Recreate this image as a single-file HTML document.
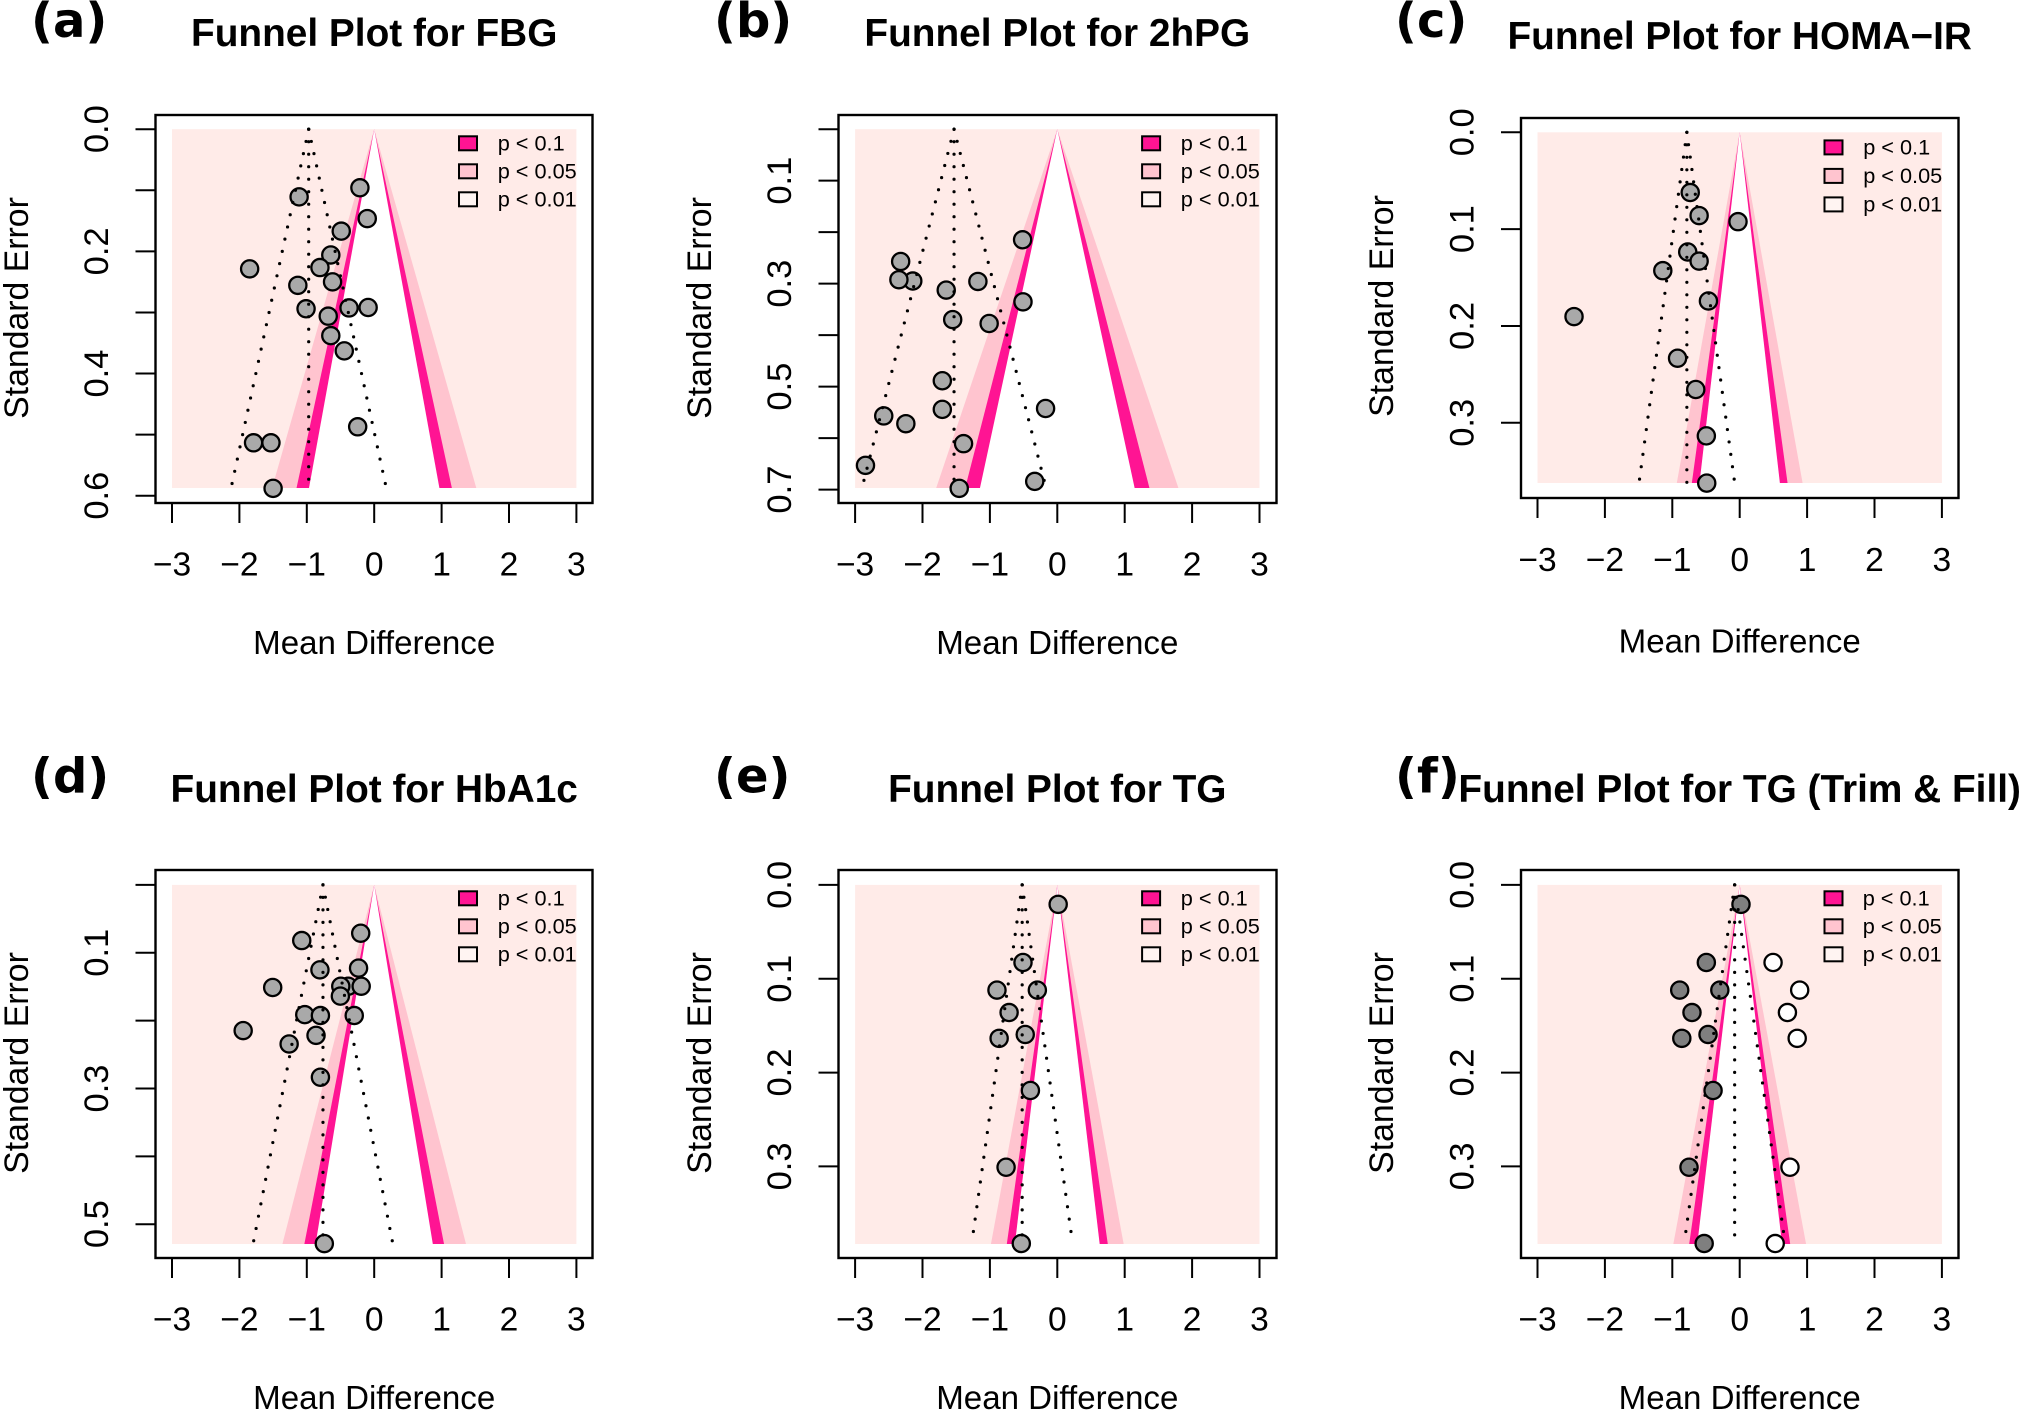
<!DOCTYPE html>
<html lang="en">
<head>
<meta charset="utf-8">
<title>Funnel plots</title>
<style>
html,body{margin:0;padding:0;background:#fff;}
svg{display:block;}
text{font-family:"Liberation Sans",Arial,sans-serif;fill:#000;}
.tag{font-family:"DejaVu Sans",sans-serif;font-weight:700;font-size:48px;}
.title{font-weight:700;font-size:38.8px;text-anchor:middle;}
.axt{font-size:33.1px;text-anchor:middle;}
.ayt{font-size:33.8px;text-anchor:middle;}
.leg{font-size:21.7px;}
.sw{stroke:#000;stroke-width:2;}
</style>
</head>
<body>
<svg id="chart" xmlns="http://www.w3.org/2000/svg" width="2023" height="1416" viewBox="0 0 2023 1416">
<rect width="2023" height="1416" fill="#fff"/>

<g id="panel-a">
 <g class="marks"></g>
 <text class="tag" x="31" y="37">(a)</text>
 <text class="title" x="374.2" y="46">Funnel Plot for FBG</text>
 <text class="axt" x="374.2" y="654">Mean Difference</text>
 <text class="ayt" transform="translate(28.2 308) rotate(-90)">Standard Error</text>
 <g transform="translate(374.2 115)">
  <rect class="sw" x="84.8" y="21.3" width="18" height="14" fill="#ff1493"/>
  <rect class="sw" x="84.8" y="49.3" width="18" height="14" fill="#ffc4cf"/>
  <rect class="sw" x="84.8" y="77.3" width="18" height="14" fill="#fff4f2"/>
  <text class="leg" x="123.5" y="35.5">p &lt; 0.1</text>
  <text class="leg" x="123.5" y="63.5">p &lt; 0.05</text>
  <text class="leg" x="123.5" y="91.5">p &lt; 0.01</text>
 </g>
</g>

<g id="panel-b">
 <g class="marks"></g>
 <text class="tag" x="714" y="37">(b)</text>
 <text class="title" x="1057.3" y="46">Funnel Plot for 2hPG</text>
 <text class="axt" x="1057.3" y="654">Mean Difference</text>
 <text class="ayt" transform="translate(711.2 308) rotate(-90)">Standard Error</text>
 <g transform="translate(1057.3 115)">
  <rect class="sw" x="84.8" y="21.3" width="18" height="14" fill="#ff1493"/>
  <rect class="sw" x="84.8" y="49.3" width="18" height="14" fill="#ffc4cf"/>
  <rect class="sw" x="84.8" y="77.3" width="18" height="14" fill="#fff4f2"/>
  <text class="leg" x="123.5" y="35.5">p &lt; 0.1</text>
  <text class="leg" x="123.5" y="63.5">p &lt; 0.05</text>
  <text class="leg" x="123.5" y="91.5">p &lt; 0.01</text>
 </g>
</g>

<g id="panel-c">
 <g class="marks"></g>
 <text class="tag" x="1395" y="37">(c)</text>
 <text class="title" x="1739.7" y="49">Funnel Plot for HOMA&#8722;IR</text>
 <text class="axt" x="1739.7" y="652.6">Mean Difference</text>
 <text class="ayt" transform="translate(1393 306) rotate(-90)">Standard Error</text>
 <g transform="translate(1739.7 118)">
  <rect class="sw" x="84.8" y="22.4" width="18" height="14" fill="#ff1493"/>
  <rect class="sw" x="84.8" y="50.9" width="18" height="14" fill="#ffc4cf"/>
  <rect class="sw" x="84.8" y="79.4" width="18" height="14" fill="#fff4f2"/>
  <text class="leg" x="123.5" y="36.5">p &lt; 0.1</text>
  <text class="leg" x="123.5" y="65">p &lt; 0.05</text>
  <text class="leg" x="123.5" y="93.5">p &lt; 0.01</text>
 </g>
</g>

<g id="panel-d">
 <g class="marks"></g>
 <text class="tag" x="31" y="792.6">(d)</text>
 <text class="title" x="374.2" y="802">Funnel Plot for HbA1c</text>
 <text class="axt" x="374.2" y="1409">Mean Difference</text>
 <text class="ayt" transform="translate(28.2 1063) rotate(-90)">Standard Error</text>
 <g transform="translate(374.2 870)">
  <rect class="sw" x="84.8" y="21.3" width="18" height="14" fill="#ff1493"/>
  <rect class="sw" x="84.8" y="49.3" width="18" height="14" fill="#ffc4cf"/>
  <rect class="sw" x="84.8" y="77.3" width="18" height="14" fill="#fff4f2"/>
  <text class="leg" x="123.5" y="35.5">p &lt; 0.1</text>
  <text class="leg" x="123.5" y="63.5">p &lt; 0.05</text>
  <text class="leg" x="123.5" y="91.5">p &lt; 0.01</text>
 </g>
</g>

<g id="panel-e">
 <g class="marks"></g>
 <text class="tag" x="714" y="792.6">(e)</text>
 <text class="title" x="1057.3" y="802">Funnel Plot for TG</text>
 <text class="axt" x="1057.3" y="1409">Mean Difference</text>
 <text class="ayt" transform="translate(711.2 1063) rotate(-90)">Standard Error</text>
 <g transform="translate(1057.3 870)">
  <rect class="sw" x="84.8" y="21.3" width="18" height="14" fill="#ff1493"/>
  <rect class="sw" x="84.8" y="49.3" width="18" height="14" fill="#ffc4cf"/>
  <rect class="sw" x="84.8" y="77.3" width="18" height="14" fill="#fff4f2"/>
  <text class="leg" x="123.5" y="35.5">p &lt; 0.1</text>
  <text class="leg" x="123.5" y="63.5">p &lt; 0.05</text>
  <text class="leg" x="123.5" y="91.5">p &lt; 0.01</text>
 </g>
</g>

<g id="panel-f">
 <g class="marks"></g>
 <text class="tag" x="1395" y="792.6">(f)</text>
 <text class="title" x="1739.7" y="802">Funnel Plot for TG (Trim &amp; Fill)</text>
 <text class="axt" x="1739.7" y="1409">Mean Difference</text>
 <text class="ayt" transform="translate(1393 1063) rotate(-90)">Standard Error</text>
 <g transform="translate(1739.7 870)">
  <rect class="sw" x="84.8" y="21.3" width="18" height="14" fill="#ff1493"/>
  <rect class="sw" x="84.8" y="49.3" width="18" height="14" fill="#ffc4cf"/>
  <rect class="sw" x="84.8" y="77.3" width="18" height="14" fill="#fff4f2"/>
  <text class="leg" x="123" y="35.5">p &lt; 0.1</text>
  <text class="leg" x="123" y="63.5">p &lt; 0.05</text>
  <text class="leg" x="123" y="91.5">p &lt; 0.01</text>
 </g>
</g>
</svg>

<script>
// ---- Data ----
const mdTicks = [-3, -2, -1, 0, 1, 2, 3];
const mdTickLabels = ['\u22123', '\u22122', '\u22121', '0', '1', '2', '3'];
const contourZ = [2.576, 1.96, 1.645];
const ciZ = 1.96;

const fbgMd = [-0.212, -1.114, -0.103, -0.489, -0.644, -1.848, -0.805, -0.618, -1.133, -1.011, -0.373, -0.090, -0.682, -0.644, -0.444, -0.245, -1.790, -1.532, -1.500];
const fbgSe = [0.0959, 0.1108, 0.1463, 0.1669, 0.2059, 0.2286, 0.2265, 0.2499, 0.2556, 0.2940, 0.2926, 0.2919, 0.3061, 0.3380, 0.3629, 0.4872, 0.5134, 0.5134, 0.5880];
const fbgCenter = -0.972;
const fbgSeTicks = [0, 0.1, 0.2, 0.3, 0.4, 0.5, 0.6];
const fbgSeLabels = ['0.0', '', '0.2', '', '0.4', '', '0.6'];

const hpgMd = [-0.515, -2.324, -2.144, -2.350, -1.178, -1.648, -0.509, -1.552, -1.011, -1.706, -1.706, -0.174, -2.575, -2.247, -1.391, -2.846, -0.335, -1.455];
const hpgSe = [0.2148, 0.2569, 0.2949, 0.2923, 0.2957, 0.3125, 0.3353, 0.3698, 0.3774, 0.4886, 0.5442, 0.5425, 0.5569, 0.5720, 0.6108, 0.6529, 0.6841, 0.6975];
const hpgCenter = -1.532;
const hpgSeTicks = [0, 0.1, 0.2, 0.3, 0.4, 0.5, 0.6, 0.7];
const hpgSeLabels = ['', '0.1', '', '0.3', '', '0.5', '', '0.7'];

const homaMd = [-0.734, -0.602, -0.025, -0.771, -0.602, -1.141, -0.464, -2.458, -0.922, -0.652, -0.495, -0.489];
const homaSe = [0.0622, 0.0860, 0.0923, 0.1236, 0.1330, 0.1429, 0.1742, 0.1903, 0.2333, 0.2656, 0.3135, 0.3623];
const homaCenter = -0.784;
const homaSeTicks = [0, 0.1, 0.2, 0.3];
const homaSeLabels = ['0.0', '0.1', '0.2', '0.3'];

const hba1cMd = [-0.200, -1.075, -0.805, -0.232, -1.506, -0.386, -0.496, -0.193, -0.502, -1.030, -0.798, -0.296, -1.944, -0.863, -1.262, -0.798, -0.740];
const hba1cSe = [0.0712, 0.0820, 0.1252, 0.1226, 0.1512, 0.1493, 0.1493, 0.1493, 0.1639, 0.1912, 0.1925, 0.1925, 0.2147, 0.2217, 0.2344, 0.2834, 0.5286];
const hba1cCenter = -0.76;
const hba1cSeTicks = [0, 0.1, 0.2, 0.3, 0.4, 0.5];
const hba1cSeLabels = ['', '0.1', '', '0.3', '', '0.5'];

const tgMd = [0.013, -0.509, -0.895, -0.296, -0.715, -0.476, -0.863, -0.399, -0.760, -0.534];
const tgSe = [0.0207, 0.0827, 0.1121, 0.1121, 0.1360, 0.1594, 0.1635, 0.2191, 0.3009, 0.3822];
const tgCenter = -0.521;
const tgSeTicks = [0, 0.1, 0.2, 0.3];
const tgSeLabels = ['0.0', '0.1', '0.2', '0.3'];

const trimMd = [0.019, -0.495, -0.890, -0.295, -0.708, -0.470, -0.859, -0.395, -0.752, -0.527];
const trimSe = [0.0207, 0.0827, 0.1121, 0.1121, 0.1360, 0.1594, 0.1635, 0.2191, 0.3009, 0.3822];
const filledMd = [0.495, 0.890, 0.708, 0.853, 0.746, 0.527];
const filledSe = [0.0827, 0.1121, 0.1360, 0.1635, 0.3009, 0.3822];
const trimCenter = -0.075;

// ---- Panel wiring ----
const panels = [
  { id:'panel-a', md:fbgMd, se:fbgSe, center:fbgCenter, ticks:fbgSeTicks, labels:fbgSeLabels, fill:'#a9a9a9' },
  { id:'panel-b', md:hpgMd, se:hpgSe, center:hpgCenter, ticks:hpgSeTicks, labels:hpgSeLabels, fill:'#a9a9a9' },
  { id:'panel-c', md:homaMd, se:homaSe, center:homaCenter, ticks:homaSeTicks, labels:homaSeLabels, fill:'#a9a9a9' },
  { id:'panel-d', md:hba1cMd, se:hba1cSe, center:hba1cCenter, ticks:hba1cSeTicks, labels:hba1cSeLabels, fill:'#a9a9a9' },
  { id:'panel-e', md:tgMd, se:tgSe, center:tgCenter, ticks:tgSeTicks, labels:tgSeLabels, fill:'#a9a9a9' },
  { id:'panel-f', md:trimMd, se:trimSe, center:trimCenter, ticks:tgSeTicks, labels:tgSeLabels, fill:'#7f7f7f', filledMd:filledMd, filledSe:filledSe }
];

// ---- Layout (pixels) ----
const frames = [
  { left:155.5,  right:592.5,  top:115, bottom:503,  x0:374.2,  yZero:129.2, yLast:495.7,  tickLabelY:575.5  },
  { left:838.5,  right:1276.5, top:115, bottom:503,  x0:1057.3, yZero:129.2, yLast:489.6,  tickLabelY:575.5  },
  { left:1521,   right:1958.5, top:118, bottom:498,  x0:1739.7, yZero:132.3, yLast:422.8,  tickLabelY:571    },
  { left:155.5,  right:592.5,  top:870, bottom:1258, x0:374.2,  yZero:884.9, yLast:1224.2, tickLabelY:1330.4 },
  { left:838.5,  right:1276.5, top:870, bottom:1258, x0:1057.3, yZero:884.9, yLast:1166.4, tickLabelY:1330.4 },
  { left:1521,   right:1958.5, top:870, bottom:1258, x0:1739.7, yZero:884.9, yLast:1166.4, tickLabelY:1330.4 }
];
const pxPerMd = 67.4;
const NS = 'http://www.w3.org/2000/svg';

function el(tag, attrs, parent) {
  const node = document.createElementNS(NS, tag);
  for (const k in attrs) node.setAttribute(k, attrs[k]);
  parent.appendChild(node);
  return node;
}

panels.forEach(function (p, i) {
  const f = frames[i];
  const marks = document.querySelector('#' + p.id + ' .marks');
  const lastTick = p.ticks[p.ticks.length - 1];
  const xScale = function (v) { return f.x0 + v * pxPerMd; };
  const yScale = function (v) { return f.yZero + v * (f.yLast - f.yZero) / lastTick; };
  const allSe = p.filledSe ? p.se.concat(p.filledSe) : p.se;
  const seMax = Math.max.apply(null, allSe);
  const yBase = Math.round(yScale(seMax));

  // background region
  const region = el('rect', {
    x: xScale(mdTicks[0]), y: yScale(0),
    width: xScale(mdTicks[mdTicks.length - 1]) - xScale(mdTicks[0]),
    height: yBase - yScale(0), fill: '#ffebe8'
  }, marks);
  
  

  // funnel contours
  const contourFills = ['#ffc4cf', '#ff1493', '#ffffff'];
  contourZ.forEach(function (z, k) {
    const pts = [
      xScale(-z * seMax) + ',' + yBase,
      xScale(0) + ',' + yScale(0),
      xScale(z * seMax) + ',' + yBase
    ].join(' ');
    const tri = el('polygon', { points: pts, fill: contourFills[k] }, marks);
    
    
  });

  // x ticks
  mdTicks.forEach(function (t, k) {
    const line = el('line', { x1: xScale(t), x2: xScale(t), y1: f.bottom, y2: f.bottom + 20, stroke: '#000', 'stroke-width': 2 }, marks);
    
    
    const txt = el('text', { x: xScale(t), y: f.tickLabelY, 'font-size': 33.6, 'text-anchor': 'middle' }, marks);
    
    
    txt.textContent = mdTickLabels[k];
  });

  // y ticks
  const yLabelX = f.left - 47.5;
  p.ticks.forEach(function (t, k) {
    const line = el('line', { x1: f.left - 20, x2: f.left, y1: yScale(t), y2: yScale(t), stroke: '#000', 'stroke-width': 2 }, marks);
    
    
    if (p.labels[k]) {
      const txt = el('text', { transform: 'translate(' + yLabelX + ' ' + yScale(t) + ') rotate(-90)', 'font-size': 34.5, 'text-anchor': 'middle' }, marks);
      
      
      txt.textContent = p.labels[k];
    }
  });

  // study points
  p.md.forEach(function (m, k) {
    const c = el('circle', { cx: xScale(m), cy: yScale(p.se[k]), r: 8.6, fill: p.fill, stroke: '#000', 'stroke-width': 2.3 }, marks);
    
    
  });
  if (p.filledMd) {
    p.filledMd.forEach(function (m, k) {
      const c = el('circle', { cx: xScale(m), cy: yScale(p.filledSe[k]), r: 8.6, fill: '#fff', stroke: '#000', 'stroke-width': 2.3 }, marks);
      
      
    });
  }

  // dotted reference funnel (three rays from the apex)
  [-ciZ, 0, ciZ].forEach(function (z) {
    const ray = el('line', {
      x1: xScale(p.center), y1: yScale(0),
      x2: xScale(p.center + z * seMax), y2: yScale(seMax),
      stroke: '#000', 'stroke-width': 3.2, 'stroke-linecap': 'round', 'stroke-dasharray': '0 12.5'
    }, marks);
    
    
  });

  // plot box
  const box = el('rect', { x: f.left, y: f.top, width: f.right - f.left, height: f.bottom - f.top, fill: 'none', stroke: '#000', 'stroke-width': 2.4 }, marks);
  
  
});
</script>
</body>
</html>
